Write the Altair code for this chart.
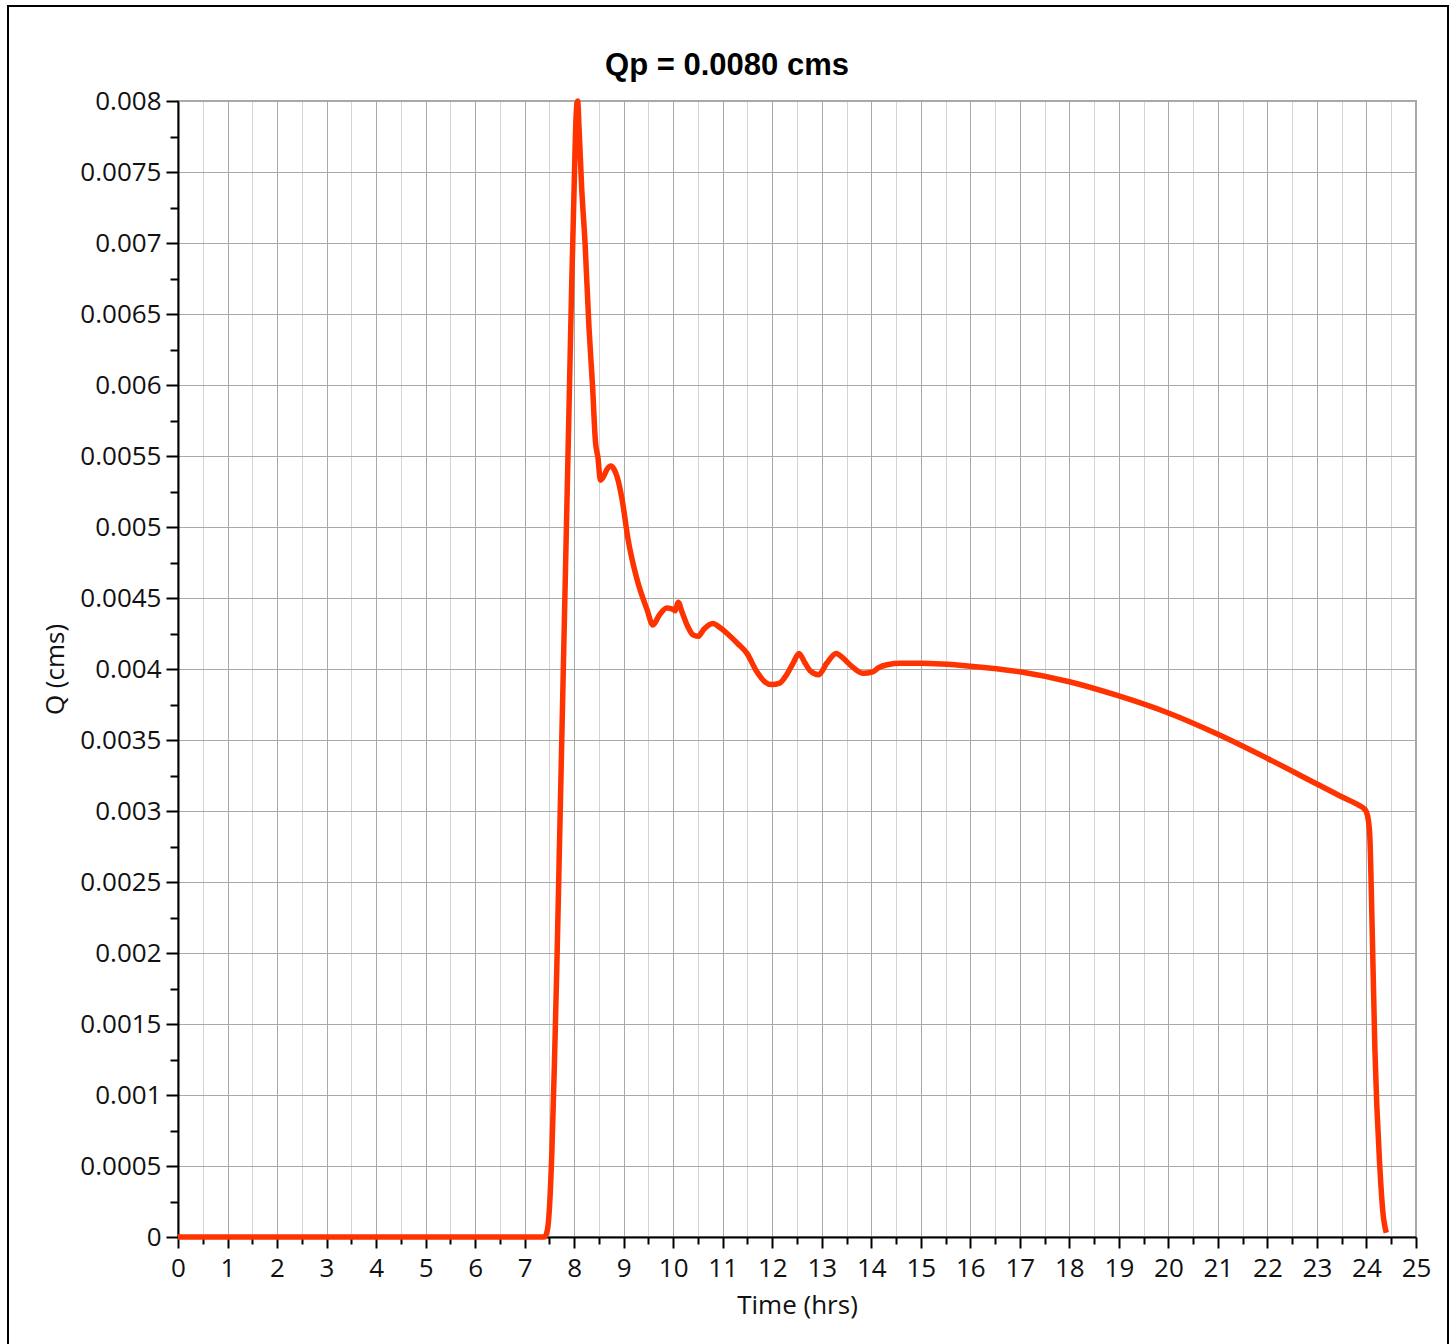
import altair as alt
import pandas as pd

hours = [0, 7.40, 7.46, 7.50, 7.55, 7.60, 7.65, 7.70, 7.75, 7.80, 7.85, 7.90, 7.95, 8.00, 8.04, 8.07,
         8.10, 8.15, 8.22, 8.30, 8.37, 8.43, 8.48, 8.53, 8.60, 8.67, 8.74, 8.80, 8.87, 8.97, 9.09, 9.27,
         9.47, 9.59, 9.72, 9.87, 10.00, 10.04, 10.10, 10.18, 10.28, 10.40, 10.50, 10.62, 10.80, 10.95,
         11.09, 11.30, 11.49, 11.69, 11.85, 11.99, 12.15, 12.29, 12.42, 12.54, 12.65, 12.76, 12.94,
         13.10, 13.29, 13.42, 13.57, 13.83, 14.03, 14.15, 14.32, 14.60, 15.00, 16.00, 17.00, 18.00,
         19.00, 20.00, 21.00, 22.00, 23.00, 23.50, 23.85, 23.94, 23.99, 24.04, 24.07, 24.11, 24.17,
         24.27, 24.33, 24.40]
flow = [0, 0, 0.00005, 0.0002, 0.0006, 0.0012, 0.0019, 0.0027, 0.0035, 0.0043, 0.0051, 0.0059, 0.0067,
        0.0074, 0.0079, 0.0080, 0.0078, 0.0074, 0.0070, 0.0064, 0.0060, 0.0056, 0.00549, 0.00533,
        0.00536, 0.00541, 0.00543, 0.00541, 0.00535, 0.00519, 0.00491, 0.00463, 0.00442, 0.00431,
        0.00438, 0.00443, 0.00442, 0.00441, 0.00447, 0.00440, 0.00431, 0.00424, 0.00423, 0.00428,
        0.00432, 0.00429, 0.00425, 0.00418, 0.00411, 0.00398, 0.00391, 0.00389, 0.00390, 0.00396,
        0.00404, 0.00411, 0.00405, 0.00399, 0.00396, 0.00404, 0.00411, 0.00408, 0.00403, 0.00397,
        0.00398, 0.00401, 0.00403, 0.00404, 0.00404, 0.00402, 0.00398, 0.00391,
        0.00381, 0.00369, 0.00354, 0.00337, 0.00319, 0.00310, 0.00304, 0.00302, 0.00300, 0.00293,
        0.00280, 0.00225, 0.00132, 0.00049, 0.00018, 0.00003]

x_major = list(range(0, 26))
x_minor = [i + 0.5 for i in range(0, 25)]
y_major = [0, 0.0005, 0.001, 0.0015, 0.002, 0.0025, 0.003, 0.0035, 0.004, 0.0045, 0.005,
           0.0055, 0.006, 0.0065, 0.007, 0.0075, 0.008]
y_minor = [0.00025, 0.00075, 0.00125, 0.00175, 0.00225, 0.00275, 0.00325, 0.00375, 0.00425,
           0.00475, 0.00525, 0.00575, 0.00625, 0.00675, 0.00725, 0.00775]
title_text = ["Qp = 0.0080 cms"]

df = pd.DataFrame({"t": hours, "q": flow})

W, H = 1238, 1136
FONT = "Open Sans"

xscale = alt.Scale(domain=[0, 25], nice=False, zero=False)
yscale = alt.Scale(domain=[0, 0.008], nice=False)

minor = alt.Chart(df).mark_line(opacity=0).encode(
    x=alt.X("t:Q", scale=xscale,
            axis=alt.Axis(orient="bottom", values=x_minor, labels=False, domain=False, title=None,
                          grid=True, gridColor="#d4d4d4", gridWidth=1,
                          ticks=True, tickSize=7, tickWidth=2, tickColor="black")),
    y=alt.Y("q:Q", scale=yscale,
            axis=alt.Axis(orient="left", values=y_minor, labels=False, domain=False, title=None,
                          grid=False, ticks=True, tickSize=8, tickWidth=2, tickColor="black")),
)

main = alt.Chart(df).mark_line(color="#ff3300", strokeWidth=5.5, interpolate="monotone").encode(
    x=alt.X("t:Q", scale=xscale,
            axis=alt.Axis(orient="bottom", values=x_major, format="d", labelFlush=False,
                          labelOverlap=False, grid=True, gridColor="#a9a9a9", gridWidth=1,
                          ticks=True, tickSize=11, tickWidth=2, tickColor="black",
                          domain=True, domainColor="black", domainWidth=2,
                          labelFont=FONT, labelFontSize=26, labelColor="#111111", labelPadding=7,
                          title="Time (hrs)", titleFont=FONT, titleFontSize=26,
                          titleFontWeight="normal", titleColor="#111111",
                          titleY=68, titleBaseline="middle")),
    y=alt.Y("q:Q", scale=yscale,
            axis=alt.Axis(orient="left", values=y_major, format="~g", labelFlush=False,
                          labelOverlap=False, grid=True, gridColor="#a9a9a9", gridWidth=1,
                          ticks=True, tickSize=12, tickWidth=2, tickColor="black",
                          domain=True, domainColor="black", domainWidth=2,
                          labelFont=FONT, labelFontSize=26, labelColor="#111111", labelPadding=5,
                          title="Q (cms)", titleFont=FONT, titleFontSize=26,
                          titleFontWeight="normal", titleColor="#111111",
                          titleX=-123, titleY=H / 2, titleAngle=-90,
                          titleAlign="center", titleBaseline="middle")),
)

frame = alt.Chart(pd.DataFrame({"k": [0]})).mark_rect(
    fillOpacity=0, stroke="black", strokeWidth=2
).encode(
    x=alt.value(-170), x2=alt.value(1270), y=alt.value(-95), y2=alt.value(1300)
)

title = alt.Chart(pd.DataFrame({"label": title_text})).mark_text(
    font="Liberation Sans", fontSize=31, fontWeight="bold", color="black",
    align="center", baseline="alphabetic"
).encode(
    text="label:N", x=alt.value(549), y=alt.value(-26)
)

chart = alt.layer(minor, main, frame, title).resolve_axis(
    x="independent", y="independent"
).properties(
    width=W, height=H,
    autosize=alt.AutoSizeParams(type="none"),
    padding={"left": 178, "top": 101, "right": 40, "bottom": 107},
    background="white",
).configure_view(stroke="#a8a8a8", strokeWidth=2)

chart.save("out.html", embed_options={"renderer": "svg", "actions": False})
